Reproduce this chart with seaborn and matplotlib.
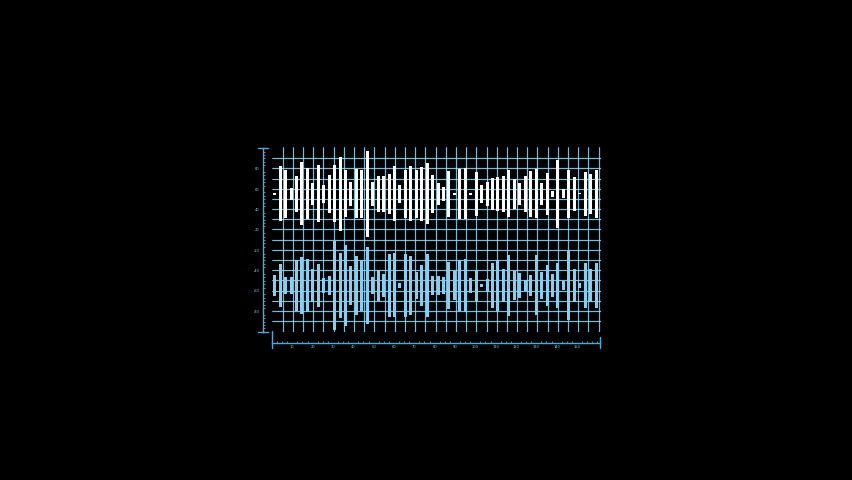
import matplotlib.pyplot as plt
import numpy as np
import seaborn as sns
from matplotlib.ticker import MultipleLocator

# peak-to-peak length of every bar (1 unit ~ 1 px)
upper_amp = [2, 54, 47, 12, 36, 62, 50, 22, 56, 17, 37, 56, 73, 46, 23,
             48, 47, 84, 23, 35, 35, 39, 54, 17, 47, 54, 47, 53, 60, 37,
             21, 14, 45, 2, 49, 50, 2, 44, 17, 23, 31, 33, 36, 46, 30,
             21, 36, 45, 48, 21, 41, 6, 67, 9, 47, 33, 1, 43, 39, 47]
lower_amp = [20, 42, 17, 17, 50, 56, 52, 32, 43, 14, 18, 87, 64, 80, 39,
             58, 50, 75, 16, 31, 23, 62, 63, 5, 62, 58, 27, 41, 62, 19,
             19, 17, 47, 29, 50, 52, 15, 31, 3, 13, 45, 50, 33, 60, 28,
             25, 10, 21, 59, 26, 41, 22, 45, 9, 68, 32, 5, 45, 33, 45]
upper_center = 125
lower_center = 35

left_labels = ["-80", "-60", "-40", "-20", "20", "40", "60", "80"]
bottom_labels = ["10", "20", "30", "40", "50", "60", "70", "80",
                 "90", "100", "110", "120", "130", "140", "150"]

W, H = 852, 480
grid_col = "#9ad6ec"
glow_col = "#2f7aa6"
ruler = "#4fa9d6"
label_col = "#7fcdf0"

sns.set_theme(style="dark", rc={"figure.facecolor": "black", "axes.facecolor": "black"})

fig = plt.figure(figsize=(W / 100, H / 100), dpi=100)
ax = fig.add_axes([272 / W, 1 - 332 / H, (601 - 272) / W, (332 - 147) / H])

idx = np.arange(len(upper_amp))
for amps, center, color in [(upper_amp, upper_center, "white"),
                            (lower_amp, lower_center, "#84d0f0")]:
    n0 = len(ax.patches)
    sns.barplot(x=idx, y=amps, color=color, width=0.55, errorbar=None,
                saturation=1, linewidth=0, ax=ax)
    # centre each bar on its row
    for p in ax.patches[n0:]:
        p.set_y(center - p.get_height() / 2)

xmax = (601 - 274.7) / 5.446
ax.set_xlim(-0.5, xmax)
ax.set_ylim(-10.8, 171.1)
vx = (282.7 + 10.19 * np.arange(32) - 274.7) / 5.446
hy = np.arange(0, 161, 10)
ax.set_xticks(vx)
ax.set_yticks(hy)
ax.tick_params(length=0, labelbottom=False, labelleft=False)
ax.set_xlabel("")
ax.set_ylabel("")
ax.set_axisbelow(True)
ax.grid(True, color=grid_col, lw=0.6)
ax.hlines(hy, -0.5, xmax, color=glow_col, lw=2, alpha=0.2, zorder=0.3)
ax.vlines(vx, -10.8, 171.1, color=glow_col, lw=2, alpha=0.2, zorder=0.3)
for s in ax.spines.values():
    s.set_visible(False)

# left ruler
axl = fig.add_axes([257.7 / W, 1 - 331.7 / H, 10 / W, (331.7 - 148.3) / H])
axl.set_facecolor("none")
for s in ["top", "right", "bottom"]:
    axl.spines[s].set_visible(False)
axl.spines["left"].set_position(("axes", 0.5))
axl.spines["left"].set_color(ruler)
axl.spines["left"].set_linewidth(1)
axl.set_xlim(0, 1)
axl.set_ylim(0, 9)
axl.set_xticks([])
axl.set_yticks(range(1, 9), labels=left_labels)
axl.yaxis.set_minor_locator(MultipleLocator(1 / 6))
axl.tick_params(axis="y", which="major", direction="in", length=3, width=0.8,
                color=ruler, labelcolor=label_col, labelsize=2.6, pad=2.5)
axl.tick_params(axis="y", which="minor", direction="in", length=1.6, width=0.6,
                color=ruler, left=True)
axl.axhline(0, color=ruler, lw=1, clip_on=False)
axl.axhline(9, color=ruler, lw=1, clip_on=False)

# bottom ruler
axb = fig.add_axes([272 / W, 1 - 348 / H, 328 / W, 10 / H])
axb.set_facecolor("none")
for s in ["top", "right", "left"]:
    axb.spines[s].set_visible(False)
axb.spines["bottom"].set_position(("axes", 0.5))
axb.spines["bottom"].set_color(ruler)
axb.spines["bottom"].set_linewidth(1)
axb.set_xlim(0, 328 / 20.33)
axb.set_ylim(0, 1)
axb.set_yticks([])
axb.set_xticks(range(1, 16), labels=bottom_labels)
axb.xaxis.set_minor_locator(MultipleLocator(0.25))
axb.tick_params(axis="x", which="major", direction="in", length=4, width=0.8,
                color=ruler, labelcolor=label_col, labelsize=2.6, pad=1.5)
axb.tick_params(axis="x", which="minor", direction="in", length=1.6, width=0.6,
                color=ruler, bottom=True)
axb.axvline(0, ymin=0, ymax=1.7, color=ruler, lw=1, clip_on=False)
axb.axvline(328 / 20.33, ymin=0, ymax=1.1, color=ruler, lw=1, clip_on=False)

fig.savefig("out.png", dpi=100, facecolor="black")
